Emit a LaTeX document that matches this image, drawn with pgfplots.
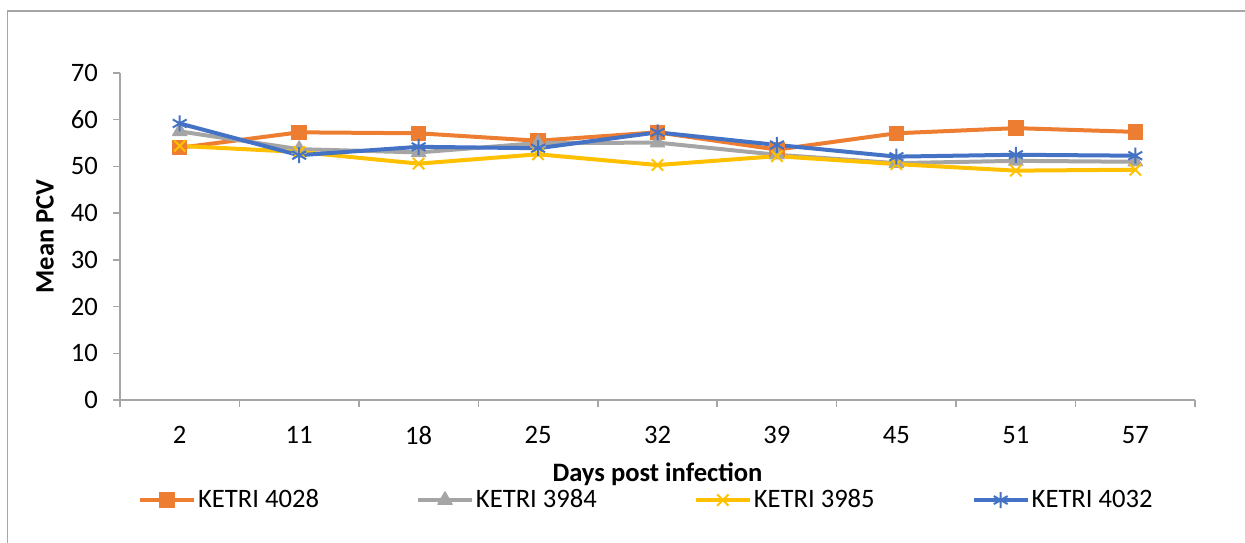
\documentclass[border=0pt]{standalone}
\usepackage{pgfplots}
\pgfplotsset{compat=1.18}
\usepackage{fontspec}
\setmainfont{Carlito}
\definecolor{c1}{HTML}{ED7D31}
\definecolor{c2}{HTML}{A5A5A5}
\definecolor{c3}{HTML}{FFC000}
\definecolor{c4}{HTML}{4472C4}
\definecolor{axgray}{HTML}{A6A6A6}
\newcommand{\fs}{\fontsize{13.3}{16}\selectfont}
\begin{document}
\begin{tikzpicture}
\useasboundingbox (0,0) rectangle (622.5pt,-271pt);
\draw[axgray, line width=0.75pt] (3.75pt,-300pt) -- (3.75pt,-5.5pt) -- (640pt,-5.5pt);
\begin{axis}[at={(60pt,-200pt)}, anchor=south west, scale only axis,
  width=537.5pt, height=163.5pt,
  xmin=-0.5, xmax=8.5, ymin=0, ymax=70,
  axis x line*=bottom, axis y line*=left,
  axis line style={axgray, line width=0.75pt, -},
  xtick={0,...,8}, xticklabels={2,11,18,25,32,39,45,51,57},
  major x tick style={draw=none},
  minor xtick={-0.5,0.5,...,8.5}, minor tick length=3.5pt,
  ytick={0,10,...,70}, major tick length=3.5pt, tick align=outside,
  tick style={axgray, line width=0.75pt},
  /pgf/number format/assume math mode=true,
  tick label style={font=\fs},
  yticklabel style={xshift=-4pt},
  xticklabel style={yshift=-6pt},
  xlabel={\textbf{Days post infection}}, ylabel={\textbf{Mean PCV}},
  label style={font=\fs},
  xlabel style={at={(axis description cs:0.5,-0.226)}, anchor=center},
  ylabel style={at={(axis description cs:-0.0698,0.5)}, anchor=center},
  legend columns=4, legend cell align=left,
  legend style={at={(axis description cs:0.0165,-0.306)}, anchor=west, draw=none,
    inner sep=0pt, font=\fs, nodes={inner sep=0pt},
    /tikz/every even column/.append style={column sep=48.5pt},
    /tikz/every odd column/.append style={column sep=1pt}},
  legend image code/.code={\draw[mark repeat=2, mark phase=2] plot coordinates {(0pt,0pt) (13.5pt,0pt) (27pt,0pt)};},
  every axis plot/.append style={line width=2pt, line join=round},
]
\addplot[c1, mark=square*, mark size=3.6pt, mark options={fill=c1, line width=0.5pt}]
  coordinates {(0,54.0) (1,57.3) (2,57.1) (3,55.5) (4,57.3) (5,53.6) (6,57.1) (7,58.2) (8,57.4)};
\addlegendentry{KETRI 4028}
\addplot[c2, mark=triangle*, mark size=4.2pt, mark options={fill=c2, line width=0.5pt}]
  coordinates {(0,57.5) (1,53.7) (2,53.0) (3,55.0) (4,55.1) (5,52.5) (6,50.7) (7,51.2) (8,51.0)};
\addlegendentry{KETRI 3984}
\addplot[c3, mark=x, mark size=4pt, mark options={line width=1pt}]
  coordinates {(0,54.4) (1,53.1) (2,50.6) (3,52.6) (4,50.3) (5,52.2) (6,50.5) (7,49.1) (8,49.3)};
\addlegendentry{KETRI 3985}
\addplot[c4, mark=asterisk, mark size=4pt, mark options={line width=1pt}]
  coordinates {(0,59.2) (1,52.4) (2,54.2) (3,53.9) (4,57.3) (5,54.6) (6,52.1) (7,52.5) (8,52.3)};
\addlegendentry{KETRI 4032}
\end{axis}
\end{tikzpicture}
\end{document}
